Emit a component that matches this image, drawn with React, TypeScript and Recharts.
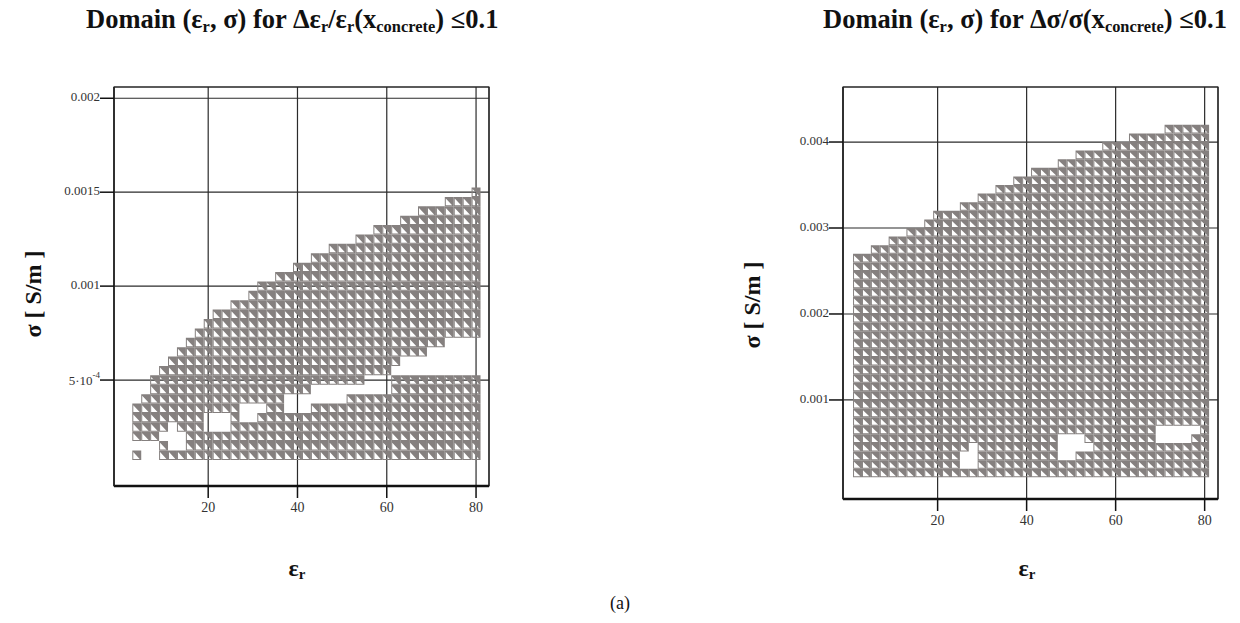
import React from 'react';
import { ScatterChart, Scatter, XAxis, YAxis, CartesianGrid, ReferenceArea } from 'recharts';

// ---------- data ----------
const EPS_COLUMNS = [2, 4, 6, 8, 10, 12, 14, 16, 18, 20, 22, 24, 26, 28, 30, 32, 34, 36, 38, 40,
  42, 44, 46, 48, 50, 52, 54, 56, 58, 60, 62, 64, 66, 68, 70, 72, 74, 76, 78, 80];

// left panel: sigma = LEFT_ROW_STEP * row
const LEFT_ROW_START = 0;
const LEFT_ROW_STEP = 0.00005;
const LEFT_BOTTOM_ROW = [0, 2, 2, 2, 2, 2, 2, 2, 2, 2, 2, 2, 2, 2, 2, 2, 2, 2, 2, 2,
  2, 2, 2, 2, 2, 2, 2, 2, 2, 2, 2, 2, 2, 2, 2, 2, 2, 2, 2, 2];
const LEFT_TOP_ROW = [-1, 7, 8, 10, 11, 12, 13, 14, 15, 16, 17, 17, 18, 18, 19, 20, 20, 21, 21, 22,
  22, 23, 23, 24, 24, 24, 25, 25, 26, 26, 26, 27, 27, 28, 28, 28, 29, 29, 29, 30];
const LEFT_GAPS: Record<number, number[]> = {
  4: [3], 6: [2, 3], 8: [2, 3], 10: [4], 12: [3, 4, 5], 14: [3, 4],
  20: [5, 6], 22: [5, 6], 24: [5, 6], 28: [6, 7], 30: [6, 7], 32: [7],
  38: [7, 8], 40: [7, 8], 42: [7, 8], 44: [8, 9], 46: [8, 9], 48: [8, 9], 50: [8, 9],
  52: [9], 54: [9], 56: [9, 10], 58: [9, 10], 60: [9, 10],
  62: [11], 64: [11, 12], 66: [11, 12], 68: [11, 12], 70: [11, 12, 13], 72: [11, 12, 13],
  74: [11, 12, 13, 14], 76: [11, 12, 13, 14], 78: [11, 12, 13, 14], 80: [11, 12, 13, 14],
};

// right panel: sigma = RIGHT_ROW_START + RIGHT_ROW_STEP * row
const RIGHT_ROW_START = 0.00015;
const RIGHT_ROW_STEP = 0.0001;
const RIGHT_BOTTOM_ROW = [0, 0, 0, 0, 0, 0, 0, 0, 0, 0, 0, 0, 0, 0, 0, 0, 0, 0, 0, 0,
  0, 0, 0, 0, 0, 0, 0, 0, 0, 0, 0, 0, 0, 0, 0, 0, 0, 0, 0, 0];
const RIGHT_TOP_ROW = [25, 25, 26, 26, 27, 27, 28, 28, 29, 30, 30, 30, 31, 31, 32, 32, 33, 33, 34, 34,
  35, 35, 35, 36, 36, 37, 37, 37, 38, 38, 38, 39, 39, 39, 39, 40, 40, 40, 40, 40];
const RIGHT_GAPS: Record<number, number[]> = {
  26: [1, 2], 28: [1, 2, 3],
  48: [2, 3, 4], 50: [2, 3, 4], 52: [3, 4], 54: [3],
  70: [4, 5], 72: [4, 5], 74: [4, 5], 76: [4, 5], 78: [5],
};

const X_TICKS = [20, 40, 60, 80];
const LEFT_Y_TICKS = [0.0005, 0.001, 0.0015, 0.002];
const RIGHT_Y_TICKS = [0.001, 0.002, 0.003, 0.004];
const LEFT_X_DOMAIN: [number, number] = [-1.1, 82.9];
const LEFT_Y_DOMAIN: [number, number] = [-0.000064, 0.00206];
const RIGHT_X_DOMAIN: [number, number] = [-1.26, 83.0];
const RIGHT_Y_DOMAIN: [number, number] = [-0.000152, 0.00464];

function buildPoints(cols: number[], bottoms: number[], tops: number[], gaps: Record<number, number[]>, start: number, step: number) {
  const pts: { x: number; y: number }[] = [];
  cols.forEach((x, i) => {
    const miss = gaps[x] || [];
    for (let r = bottoms[i]; r <= tops[i]; r++) {
      if (miss.includes(r)) continue;
      pts.push({ x, y: +(start + r * step).toFixed(6) });
    }
  });
  return pts;
}

const LEFT_POINTS = buildPoints(EPS_COLUMNS, LEFT_BOTTOM_ROW, LEFT_TOP_ROW, LEFT_GAPS, LEFT_ROW_START, LEFT_ROW_STEP);
const RIGHT_POINTS = buildPoints(EPS_COLUMNS, RIGHT_BOTTOM_ROW, RIGHT_TOP_ROW, RIGHT_GAPS, RIGHT_ROW_START, RIGHT_ROW_STEP);

// ---------- styling ----------
const FONT = '"Liberation Serif", "Times New Roman", serif';
const GREY = '#85807f';

const makeCell = (w: number, h: number) => (props: any) => {
  const { cx, cy } = props;
  if (cx == null || cy == null) return <g />;
  const l = cx - w / 2, r = cx + w / 2, t = cy - h / 2, b = cy + h / 2;
  const d = `M${l},${t}H${r}V${b}H${l}Z M${l + 1.0},${t + 1.6}L${l + 1.0},${b - 1.0}L${r - 1.6},${b - 1.0}Z`;
  return <path d={d} fill={GREY} fillRule="evenodd" />;
};

const YTick = (props: any) => {
  const { x, y, payload } = props;
  const v = payload.value;
  const common = { x, y, textAnchor: 'end' as const, fill: '#333', fontSize: 13, fontFamily: FONT };
  if (Math.abs(v - 0.0005) < 1e-9) {
    return (
      <text {...common} dy={5}>
        5·10<tspan dy={-7} fontSize={9}>-4</tspan>
      </text>
    );
  }
  return <text {...common} dy={3}>{String(v)}</text>;
};

const Sub = ({ children }: { children: React.ReactNode }) => (
  <sub style={{ fontSize: '0.62em', verticalAlign: '-0.25em' }}>{children}</sub>
);

const abs = (left: number, top: number, extra: React.CSSProperties = {}): React.CSSProperties => ({
  position: 'absolute', left, top, fontFamily: FONT, color: '#111', whiteSpace: 'nowrap', lineHeight: 1, ...extra,
});

function Panel(props: {
  points: { x: number; y: number }[];
  xDomain: [number, number];
  yDomain: [number, number];
  yTicks: number[];
  margin: { top: number; right: number; bottom: number; left: number };
  cellW: number;
  cellH: number;
}) {
  const { points, xDomain, yDomain, yTicks, margin, cellW, cellH } = props;
  return (
    <ScatterChart width={620} height={623} margin={margin}>
      <CartesianGrid stroke="#2b2b2b" strokeWidth={1.2} />
      <XAxis
        type="number" dataKey="x" domain={xDomain} ticks={X_TICKS} allowDataOverflow
        height={40} tickSize={12} tickMargin={4}
        axisLine={{ stroke: '#111', strokeWidth: 2.5 }}
        tickLine={{ stroke: '#111', strokeWidth: 1.5 }}
        tick={{ fill: '#333', fontSize: 14, fontFamily: FONT }}
      />
      <YAxis
        type="number" dataKey="y" domain={yDomain} ticks={yTicks} allowDataOverflow
        width={70} tickSize={14} tickMargin={0}
        axisLine={{ stroke: '#222', strokeWidth: 1.2 }}
        tickLine={{ stroke: '#111', strokeWidth: 1.5 }}
        tick={<YTick />}
      />
      <Scatter data={points} isAnimationActive={false} shape={makeCell(cellW, cellH)} />
      <ReferenceArea
        x1={xDomain[0]} x2={xDomain[1]} y1={yDomain[0]} y2={yDomain[1]}
        fill="none" fillOpacity={0} stroke="#222" strokeWidth={1.2} ifOverflow="visible"
      />
    </ScatterChart>
  );
}

export default function App() {
  return (
    <div style={{ position: 'absolute', left: 0, top: 0, width: 1240, height: 623, background: '#fff', overflow: 'hidden' }}>
      <div style={{ position: 'absolute', left: 0, top: 0 }}>
        <Panel
          points={LEFT_POINTS} xDomain={LEFT_X_DOMAIN} yDomain={LEFT_Y_DOMAIN} yTicks={LEFT_Y_TICKS}
          margin={{ top: 87, right: 131, bottom: 97, left: 44 }} cellW={8.93} cellH={9.4}
        />
      </div>
      <div style={{ position: 'absolute', left: 620, top: 0 }}>
        <Panel
          points={RIGHT_POINTS} xDomain={RIGHT_X_DOMAIN} yDomain={RIGHT_Y_DOMAIN} yTicks={RIGHT_Y_TICKS}
          margin={{ top: 87, right: 22, bottom: 84, left: 153 }} cellW={8.92} cellH={8.6}
        />
      </div>

      {/* titles */}
      <div style={abs(86, 6, { fontSize: 26.5, fontWeight: 'bold' })}>
        Domain (ε<Sub>r</Sub>, σ) for Δε<Sub>r</Sub>/ε<Sub>r</Sub>(x<Sub>concrete</Sub>) ≤0.1
      </div>
      <div style={abs(823, 6, { fontSize: 26.5, fontWeight: 'bold' })}>
        Domain (ε<Sub>r</Sub>, σ) for Δσ/σ(x<Sub>concrete</Sub>) ≤0.1
      </div>

      {/* y labels */}
      <div style={abs(33, 294, { fontSize: 24, fontWeight: 'bold', transform: 'translate(-50%, -50%) rotate(-90deg)' })}>
        σ [ S/m ]
      </div>
      <div style={abs(752, 305, { fontSize: 24, fontWeight: 'bold', transform: 'translate(-50%, -50%) rotate(-90deg)' })}>
        σ [ S/m ]
      </div>

      {/* x labels */}
      <div style={abs(297, 569, { fontSize: 24, fontWeight: 'bold', transform: 'translate(-50%, -50%)' })}>
        ε<Sub>r</Sub>
      </div>
      <div style={abs(1027, 569, { fontSize: 24, fontWeight: 'bold', transform: 'translate(-50%, -50%)' })}>
        ε<Sub>r</Sub>
      </div>

      <div style={abs(620, 603, { fontSize: 18, transform: 'translate(-50%, -50%)' })}>(a)</div>
    </div>
  );
}
